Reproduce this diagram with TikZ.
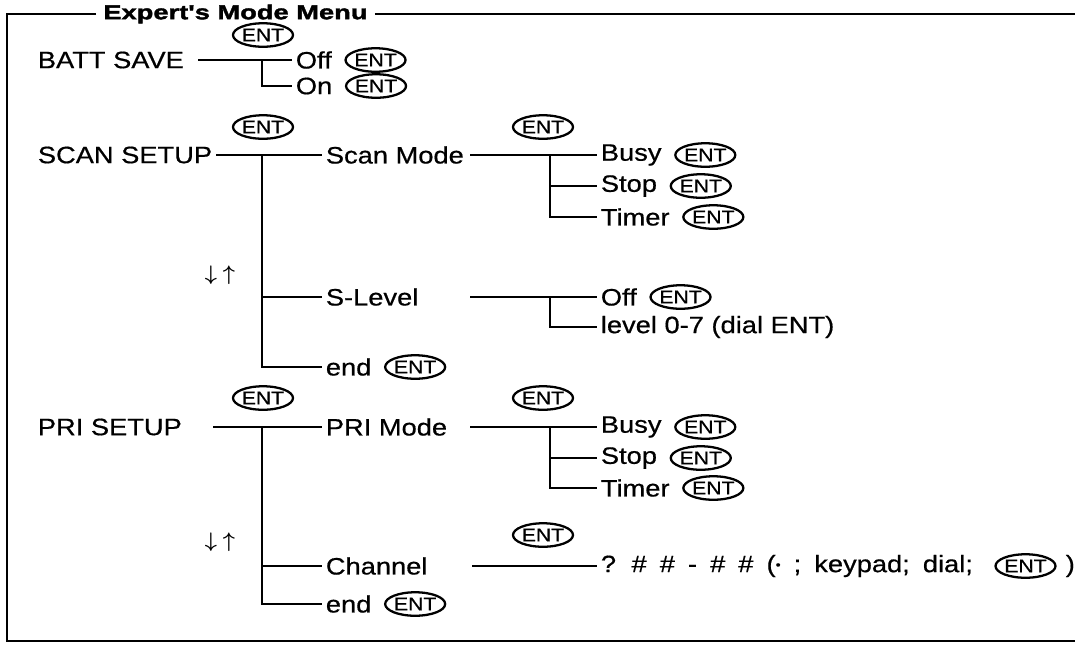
\documentclass[tikz,border=0pt]{standalone}
\usepackage{amsmath}
\usepackage{fontspec}
\setmainfont{Liberation Sans}[FakeStretch=1.15, FakeBold=0.6]
\newfontfamily\titlefont{Liberation Sans}[UprightFont=* Bold, FakeStretch=1.35, FakeBold=1.8]
\usetikzlibrary{positioning, shapes.geometric}

\begin{document}
\begin{tikzpicture}[
      x=0.02cm, y=-0.02cm,
      item/.style={anchor=west, inner sep=2pt, font=\fontsize{13.5}{15}\selectfont},
      key/.style={draw, ellipse, line width=1.3pt, inner sep=0pt, minimum width=1.04cm, minimum height=0.47cm, font=\fontsize{10.5}{11}\selectfont},
      updown/.style={font=\fontsize{13}{14}\selectfont},
      branch/.style={line width=1.3pt},
      frame/.style={line width=1.1pt},
    ]
    \useasboundingbox (0,0) rectangle (1075,654);

    % frame and heading
    \node[anchor=west, inner sep=4pt, font=\titlefont\fontsize{11.5}{13}\selectfont] (title) at (96,14) {Expert's Mode Menu};
    \coordinate (tl) at (7,14);
    \coordinate (tr) at (1075,14);
    \coordinate (bl) at (7,641);
    \coordinate (br) at (1075,641);
    \draw[frame] (title.west) -- (tl) -- (bl) -- (br);
    \draw[frame] (title.east) -- (tr);

    % battery save
    \node[item] (batt) at (34,60) {BATT SAVE};
    \node[key] (battkey) at (263,35) {ENT};
    \node[item] (battoff) at (292,60) {Off};
    \node[key, right=5pt of battoff] (battoffkey) {ENT};
    \node[item] (batton) at (292,86) {On};
    \node[key, right=5pt of batton] (battonkey) {ENT};
    \coordinate (battin) at (198,60);
    \coordinate (batttrunk) at (262,60);
    \draw[branch] (battin) -- (battoff.west);
    \draw[branch] (batttrunk) |- (batton.west);

    % scan setup
    \node[item] (scan) at (34,155) {SCAN SETUP};
    \node[key] (scankey) at (263,127) {ENT};
    \node[item] (scanmode) at (322,155) {Scan Mode};
    \node[key] (scanmodekey) at (543,127) {ENT};
    \node[item] (busyA) at (597,155) {Busy};
    \node[key, right=5pt of busyA] (busyAkey) {ENT};
    \node[item] (stopA) at (597,186) {Stop};
    \node[key, right=5pt of stopA] (stopAkey) {ENT};
    \node[item] (timerA) at (597,217) {Timer};
    \node[key, right=5pt of timerA] (timerAkey) {ENT};
    \node[updown] (updnA) at (220,275) {$\boldsymbol{\downarrow}\;\boldsymbol{\uparrow}$};
    \node[item] (slevel) at (322,297) {S-Level};
    \node[item] (sloff) at (597,297) {Off};
    \node[key, right=5pt of sloff] (sloffkey) {ENT};
    \node[item] (sllevel) at (597,327) {level 0-7 (dial ENT)};
    \node[item] (endA) at (322,367) {end};
    \node[key, right=5pt of endA] (endAkey) {ENT};
    \coordinate (scantrunk) at (262,155);
    \coordinate (modeAin) at (470,155);
    \coordinate (modeAtrunk) at (550,155);
    \coordinate (slevelin) at (470,297);
    \coordinate (sleveltrunk) at (550,297);
    \draw[branch] (scan.east) -- (scanmode.west);
    \draw[branch] (scantrunk) |- (slevel.west);
    \draw[branch] (scantrunk) |- (endA.west);
    \draw[branch] (modeAin) -- (busyA.west);
    \draw[branch] (modeAtrunk) |- (stopA.west);
    \draw[branch] (modeAtrunk) |- (timerA.west);
    \draw[branch] (slevelin) -- (sloff.west);
    \draw[branch] (sleveltrunk) |- (sllevel.west);

    % priority setup
    \node[item] (pri) at (34,427) {PRI SETUP};
    \node[key] (prikey) at (263,398) {ENT};
    \node[item] (primode) at (322,427) {PRI Mode};
    \node[key] (primodekey) at (543,398) {ENT};
    \node[item] (busyB) at (597,427) {Busy};
    \node[key, right=5pt of busyB] (busyBkey) {ENT};
    \node[item] (stopB) at (597,458) {Stop};
    \node[key, right=5pt of stopB] (stopBkey) {ENT};
    \node[item] (timerB) at (597,488) {Timer};
    \node[key, right=5pt of timerB] (timerBkey) {ENT};
    \node[updown] (updnB) at (220,542) {$\boldsymbol{\downarrow}\;\boldsymbol{\uparrow}$};
    \node[item] (channel) at (322,566) {Channel};
    \node[key] (channelkey) at (543,535) {ENT};
    \node[item] (chcode) at (597,566) {\spaceskip=0.55em ? \# \# - \# \# (\raisebox{0.25ex}{\scriptsize\textbullet} ; keypad; dial;};
    \node[key, right=10pt of chcode] (chcodekey) {ENT};
    \node[item, right=3pt of chcodekey] (chclose) {)};
    \node[item] (endB) at (322,604) {end};
    \node[key, right=5pt of endB] (endBkey) {ENT};
    \coordinate (priin) at (213,427);
    \coordinate (pritrunk) at (262,427);
    \coordinate (modeBin) at (470,427);
    \coordinate (modeBtrunk) at (550,427);
    \coordinate (channelin) at (472,566);
    \draw[branch] (priin) -- (primode.west);
    \draw[branch] (pritrunk) |- (channel.west);
    \draw[branch] (pritrunk) |- (endB.west);
    \draw[branch] (modeBin) -- (busyB.west);
    \draw[branch] (modeBtrunk) |- (stopB.west);
    \draw[branch] (modeBtrunk) |- (timerB.west);
    \draw[branch] (channelin) -- (chcode.west);
  \end{tikzpicture}
\end{document}
